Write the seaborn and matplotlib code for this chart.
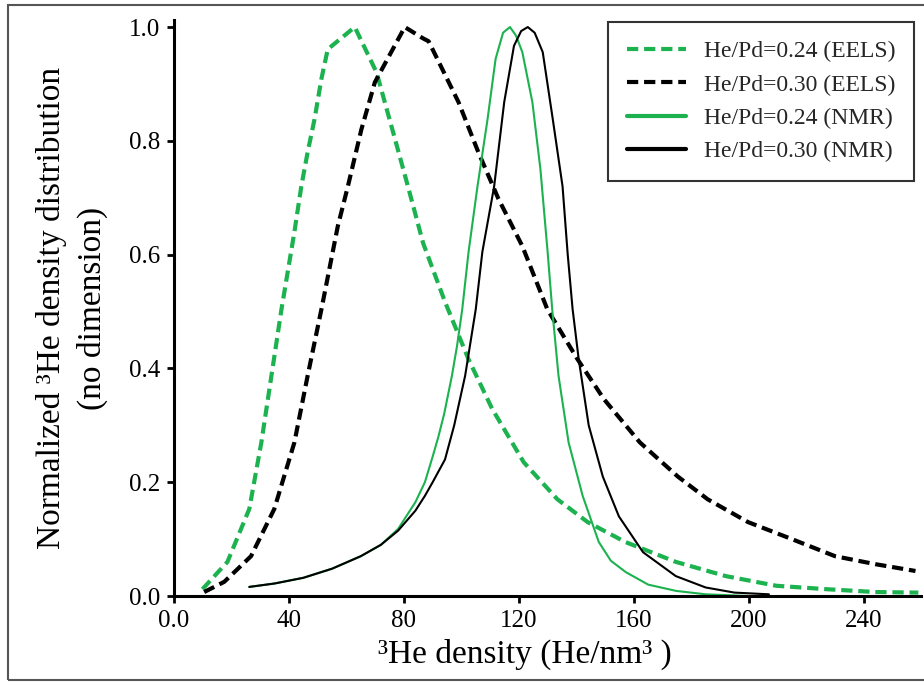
import numpy as np
import pandas as pd
import matplotlib
matplotlib.use("Agg")
import matplotlib.pyplot as plt
from matplotlib.lines import Line2D
from matplotlib.patches import Rectangle
import seaborn as sns

# ---- data ----
eels24_x = [9.9, 18.6, 26.2, 30.4, 33.9, 37.4, 41.9, 44.3, 46.5, 48.9, 51.3, 53.5, 62.9,
            70.5, 76.9, 81.4, 86.7, 94.3, 102.4, 110.7, 121.7, 133.4, 143.9, 157.0,
            174.6, 192.0, 209.6, 227.0, 244.0, 259.0]
eels24_y = [0.012, 0.06, 0.153, 0.27, 0.387, 0.504, 0.64, 0.72, 0.78, 0.838, 0.909, 0.961, 1.0,
            0.92, 0.803, 0.72, 0.62, 0.517, 0.417, 0.329, 0.235, 0.17, 0.13, 0.095,
            0.06, 0.035, 0.018, 0.012, 0.007, 0.006]

eels30_x = [10.5, 17.5, 26.8, 34.9, 41.9, 46.5, 51.3, 57.0, 60.5, 65.2, 69.9, 80.3, 86.7,
            88.6, 99.0, 105.9, 112.9, 121.2, 129.9, 140.3, 149.6, 162.1, 175.3, 185.7,
            199.7, 215.0, 230.0, 244.0, 258.0]
eels30_y = [0.007, 0.025, 0.07, 0.153, 0.27, 0.387, 0.504, 0.65, 0.72, 0.82, 0.903, 1.0, 0.98,
            0.975, 0.868, 0.78, 0.698, 0.615, 0.504, 0.417, 0.346, 0.27, 0.21, 0.17,
            0.13, 0.10, 0.07, 0.056, 0.044]

nmr24_x = [26.2, 35.0, 45.0, 55.0, 65.0, 72.0, 78.0, 84.0, 87.3, 90.0, 92.0, 94.0, 96.7, 98.5,
           100.3, 102.5, 105.6, 109.1, 111.9, 114.5, 116.9, 119.0, 121.2, 124.7, 127.5,
           130.0, 131.6, 133.8, 137.3, 142.2, 147.8, 152.0, 157.2, 165.0, 174.7, 185.0, 200.0]
nmr24_y = [0.016, 0.022, 0.032, 0.048, 0.07, 0.09, 0.118, 0.165, 0.2, 0.245, 0.28, 0.32, 0.387,
           0.44, 0.504, 0.605, 0.72, 0.838, 0.944, 0.99, 1.0, 0.985, 0.956, 0.868, 0.75,
           0.605, 0.504, 0.387, 0.27, 0.176, 0.095, 0.062, 0.042, 0.02, 0.009, 0.003, 0.0]

nmr30_x = [26.2, 35.0, 45.0, 55.0, 65.0, 72.0, 78.0, 84.0, 87.3, 90.0, 94.3, 97.5, 101.3,
           105.0, 107.3, 111.4, 114.9, 118.3, 120.8, 123.1, 125.5, 128.3, 131.8, 135.2,
           137.0, 138.7, 140.8, 144.3, 149.2, 154.8, 163.2, 174.6, 185.0, 195.0, 207.0]
nmr30_y = [0.016, 0.022, 0.032, 0.048, 0.07, 0.09, 0.115, 0.15, 0.176, 0.2, 0.24, 0.3, 0.387,
           0.504, 0.605, 0.72, 0.868, 0.967, 0.993, 1.0, 0.99, 0.956, 0.838, 0.72,
           0.6, 0.504, 0.417, 0.30, 0.21, 0.14, 0.077, 0.035, 0.015, 0.006, 0.003]

labels = ["He/Pd=0.24 (EELS)", "He/Pd=0.30 (EELS)", "He/Pd=0.24 (NMR)", "He/Pd=0.30 (NMR)"]
xticks = [0, 40, 80, 120, 160, 200, 240]
xticklabels = ["0.0", "40", "80", "120", "160", "200", "240"]
yticks = [0.0, 0.2, 0.4, 0.6, 0.8, 1.0]
yticklabels = ["0.0", "0.2", "0.4", "0.6", "0.8", "1.0"]

GREEN = "#1cb24f"
BLACK = "#000000"

sns.set_theme(style="white")
plt.rcParams["font.family"] = ["Liberation Serif", "DejaVu Serif"]

fig = plt.figure(figsize=(9.24, 6.88), dpi=100)
ax = fig.add_axes([0.1883, 0.1337, 0.8087, 0.8369])

series = [
    (eels24_x, eels24_y, GREEN, "dash", 3.0),
    (eels30_x, eels30_y, BLACK, "dash", 3.0),
    (nmr24_x, nmr24_y, GREEN, "solid", 1.5),
    (nmr30_x, nmr30_y, BLACK, "solid", 1.5),
]
for xs, ys, col, sty, lw in series:
    df = pd.DataFrame({"x": xs, "y": ys})
    sns.lineplot(data=df, x="x", y="y", ax=ax, color=col, sort=False,
                 linewidth=lw, legend=False, estimator=None)
    line = ax.lines[-1]
    line.set_solid_joinstyle("round")
    if sty == "dash":
        line.set_dashes((2.7, 1.4))
        line.set_dash_capstyle("butt")

ax.set_xlim(0, 260)
ax.set_ylim(0, 1.012)
ax.set_xticks(xticks)
ax.set_xticklabels(xticklabels)
ax.set_yticks(yticks)
ax.set_yticklabels(yticklabels)
for s in ["top", "right"]:
    ax.spines[s].set_visible(False)
for s in ["left", "bottom"]:
    ax.spines[s].set_color("black")
    ax.spines[s].set_linewidth(2.2)
ax.tick_params(axis="both", which="major", direction="out", length=5, width=2,
               color="black", labelsize=18, labelcolor="black", pad=5, bottom=True, left=True)

ax.set_xlabel("³He density (He/nm³ )", fontsize=24, color="black")
ax.xaxis.set_label_coords(0.47, -0.075)
ax.set_ylabel("Normalized ³He density distribution\n(no dimension)", fontsize=24,
              color="black", linespacing=1.4)
ax.yaxis.set_label_coords(-0.088, 0.5)

handles = [
    Line2D([], [], color=GREEN, lw=3.0, dashes=(2.7, 1.4)),
    Line2D([], [], color=BLACK, lw=3.0, dashes=(2.7, 1.4)),
    Line2D([], [], color=GREEN, lw=3.0),
    Line2D([], [], color=BLACK, lw=3.0),
]
leg = ax.legend(handles, labels, loc="upper right", bbox_to_anchor=(0.9906, 0.9969),
                fontsize=17, frameon=True, fancybox=False, framealpha=1,
                edgecolor="#333333", handlelength=2.5, handletextpad=0.75,
                labelspacing=0.5, borderpad=0.8, borderaxespad=0)
leg.get_frame().set_linewidth(1.5)

fig.patches.append(Rectangle((0.009, 0.011), 0.995, 0.982, transform=fig.transFigure,
                             fill=False, edgecolor="#555555", linewidth=1.5))

fig.savefig("out.png", dpi=100)
